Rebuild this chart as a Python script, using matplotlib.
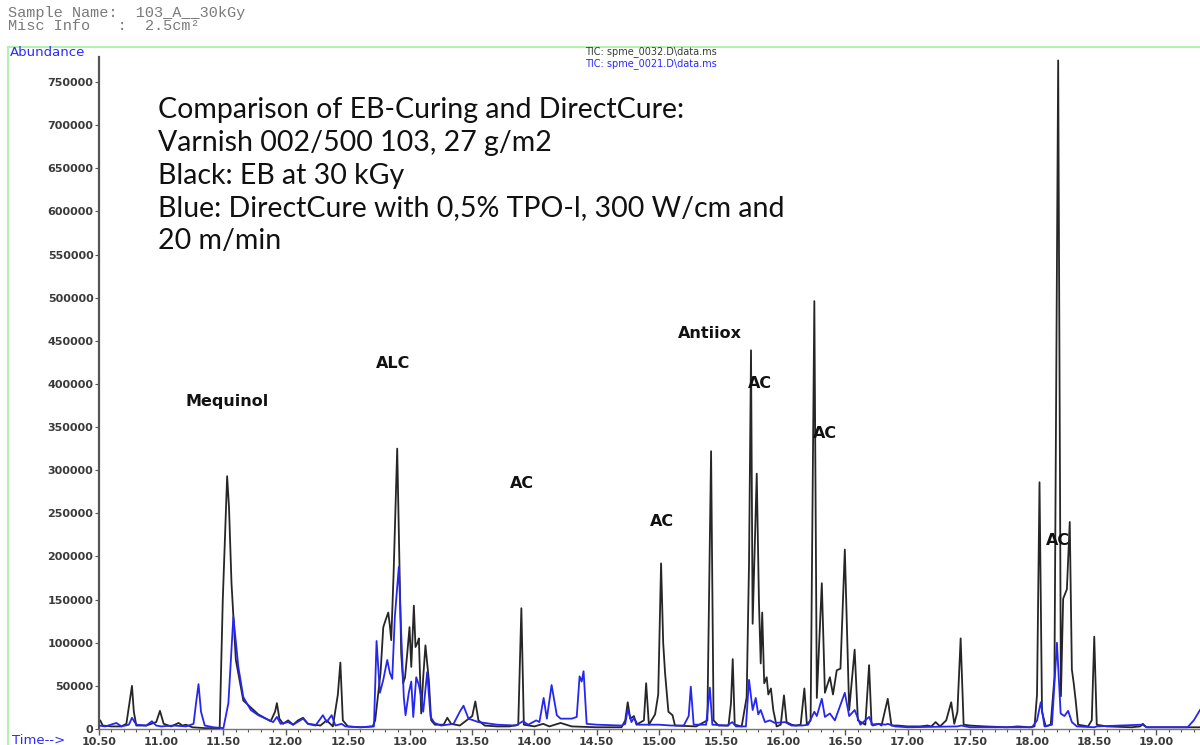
import numpy as np
import matplotlib
matplotlib.use('Agg')
from matplotlib import pyplot as plt
from matplotlib.lines import Line2D
from matplotlib.ticker import MultipleLocator, FuncFormatter

# TIC traces, retention time (min) vs abundance (x1000 counts)
eb_time = [10.50, 10.51, 10.53, 10.60, 10.68, 10.72, 10.745, 10.765, 10.78, 10.80,
           10.88, 10.96, 10.99, 11.02, 11.08, 11.14, 11.17, 11.20, 11.25, 11.35,
           11.47, 11.495, 11.53, 11.545, 11.565, 11.60, 11.66, 11.78, 11.88, 11.915,
           11.93, 11.95, 11.98, 12.02, 12.06, 12.10, 12.14, 12.18, 12.23, 12.28,
           12.33, 12.38, 12.42, 12.44, 12.46, 12.50, 12.60, 12.70, 12.72, 12.763,
           12.785, 12.803, 12.825, 12.838, 12.849, 12.868, 12.897, 12.916, 12.929, 12.945,
           12.96, 12.978, 12.996, 13.01, 13.031, 13.044, 13.06, 13.071, 13.09, 13.106,
           13.124, 13.151, 13.17, 13.20, 13.27, 13.30, 13.33, 13.40, 13.50, 13.525,
           13.55, 13.60, 13.70, 13.80, 13.87, 13.895, 13.915, 14.00, 14.07, 14.12,
           14.21, 14.30, 14.50, 14.70, 14.73, 14.75, 14.77, 14.80, 14.82, 14.88,
           14.898, 14.92, 14.97, 14.995, 15.018, 15.035, 15.05, 15.077, 15.11, 15.13,
           15.30, 15.39, 15.42, 15.44, 15.48, 15.56, 15.58, 15.594, 15.61, 15.666,
           15.706, 15.725, 15.741, 15.754, 15.787, 15.805, 15.819, 15.831, 15.847, 15.867,
           15.88, 15.901, 15.92, 15.947, 15.98, 16.006, 16.027, 16.067, 16.10, 16.14,
           16.17, 16.19, 16.22, 16.25, 16.27, 16.31, 16.335, 16.35, 16.375, 16.40,
           16.43, 16.46, 16.495, 16.53, 16.574, 16.60, 16.66, 16.69, 16.71, 16.77,
           16.79, 16.84, 16.87, 16.92, 17.00, 17.10, 17.16, 17.19, 17.225, 17.26,
           17.31, 17.35, 17.375, 17.40, 17.426, 17.45, 17.50, 17.62, 17.80, 17.886,
           17.98, 18.02, 18.04, 18.06, 18.08, 18.11, 18.15, 18.18, 18.21, 18.232,
           18.25, 18.28, 18.303, 18.32, 18.335, 18.35, 18.37, 18.45, 18.48, 18.50,
           18.52, 18.60, 18.80, 18.87, 18.89, 18.92, 19.10, 19.35]
eb_abund = [8, 10, 4, 3, 3, 6, 30, 50, 20, 4,
            4, 8, 21, 6, 3, 7, 4, 5, 2, 1,
            1, 150, 293, 257, 169, 80, 33, 17, 9, 20,
            30, 12, 6, 10, 5, 10, 13, 6, 5, 4,
            10, 3, 40, 77, 10, 3, 2, 3, 10, 65,
            118, 126, 135, 120, 103, 180, 325, 184, 88, 53,
            60, 88, 118, 72, 143, 95, 100, 105, 18, 60,
            97, 57, 10, 5, 5, 13, 6, 4, 15, 32,
            10, 4, 3, 3, 5, 140, 5, 3, 6, 3,
            7, 3, 2, 2, 10, 31, 12, 15, 5, 10,
            53, 5, 17, 40, 192, 100, 65, 20, 16, 4,
            3, 10, 322, 10, 4, 4, 30, 81, 5, 3,
            37, 192, 439, 122, 296, 146, 76, 135, 53, 60,
            40, 47, 22, 3, 5, 39, 8, 5, 4, 5,
            47, 5, 10, 496, 36, 169, 42, 49, 60, 40,
            68, 70, 208, 22, 92, 10, 5, 74, 5, 6,
            4, 35, 4, 4, 3, 3, 4, 3, 8, 3,
            10, 31, 6, 20, 105, 5, 4, 3, 2, 3,
            2, 3, 40, 286, 20, 3, 5, 60, 775, 38,
            151, 162, 240, 69, 53, 34, 5, 3, 10, 107,
            5, 3, 2, 3, 6, 2, 2, 2]

dc_time = [10.50, 10.55, 10.64, 10.68, 10.74, 10.765, 10.80, 10.88, 10.925, 10.96,
           11.00, 11.10, 11.20, 11.26, 11.28, 11.30, 11.32, 11.35, 11.42, 11.50,
           11.54, 11.58, 11.62, 11.66, 11.72, 11.78, 11.90, 11.93, 11.96, 12.02,
           12.06, 12.14, 12.18, 12.24, 12.30, 12.33, 12.37, 12.40, 12.45, 12.48,
           12.60, 12.71, 12.731, 12.758, 12.785, 12.817, 12.838, 12.857, 12.878, 12.910,
           12.929, 12.950, 12.964, 12.990, 13.010, 13.026, 13.050, 13.071, 13.090, 13.106,
           13.138, 13.165, 13.197, 13.25, 13.35, 13.40, 13.43, 13.47, 13.55, 13.70,
           13.85, 13.908, 13.95, 14.015, 14.04, 14.074, 14.10, 14.138, 14.18, 14.21,
           14.30, 14.34, 14.363, 14.38, 14.395, 14.42, 14.50, 14.70, 14.73, 14.75,
           14.78, 14.80, 14.83, 14.90, 15.00, 15.10, 15.20, 15.24, 15.257, 15.28,
           15.38, 15.41, 15.43, 15.55, 15.59, 15.62, 15.70, 15.725, 15.754, 15.779,
           15.799, 15.819, 15.853, 15.893, 15.933, 16.014, 16.067, 16.15, 16.20, 16.25,
           16.27, 16.31, 16.335, 16.375, 16.415, 16.495, 16.53, 16.574, 16.62, 16.69,
           16.72, 16.77, 16.82, 16.84, 16.90, 17.00, 17.40, 17.43, 17.50, 18.00,
           18.04, 18.07, 18.10, 18.16, 18.20, 18.23, 18.26, 18.29, 18.32, 18.36,
           18.50, 18.52, 18.89, 18.92, 19.25, 19.30, 19.35]
dc_abund = [4, 3, 7, 3, 5, 13, 5, 4, 9, 4,
            3, 4, 3, 6, 30, 52, 20, 4, 2, 1,
            30, 130, 72, 37, 22, 16, 8, 14, 6, 8,
            5, 12, 6, 4, 16, 8, 16, 4, 6, 3,
            2, 3, 102, 42, 57, 80, 65, 58, 130, 188,
            111, 37, 16, 42, 55, 14, 60, 51, 37, 20,
            66, 14, 7, 4, 6, 20, 27, 12, 8, 5,
            4, 9, 5, 10, 8, 36, 12, 51, 16, 12,
            12, 14, 61, 55, 67, 6, 5, 4, 6, 23,
            8, 13, 5, 5, 5, 4, 4, 15, 49, 5,
            5, 48, 5, 4, 8, 3, 3, 57, 22, 36,
            17, 22, 8, 10, 7, 8, 4, 4, 5, 20,
            15, 35, 14, 18, 10, 42, 15, 22, 5, 14,
            4, 6, 5, 6, 3, 2, 3, 4, 2, 2,
            10, 31, 3, 5, 100, 18, 15, 21, 8, 3,
            2, 3, 5, 2, 2, 10, 22]

# peak labels: text, retention time, abundance (x1000)
peak_names = ['Mequinol', 'ALC', 'AC', 'AC', 'Antiiox', 'AC', 'AC', 'AC']
peak_time = [11.53, 12.864, 13.903, 15.027, 15.408, 15.813, 16.339, 18.205]
peak_abund = [380, 424, 285, 241, 458, 400, 343, 219]

x_ticks = [10.5, 11.0, 11.5, 12.0, 12.5, 13.0, 13.5, 14.0, 14.5,
           15.0, 15.5, 16.0, 16.5, 17.0, 17.5, 18.0, 18.5, 19.0]
y_ticks = list(range(0, 750001, 50000))

info_text = ('Comparison of EB-Curing and DirectCure:\n'
             'Varnish 002/500 103, 27 g/m2\n'
             'Black: EB at 30 kGy\n'
             'Blue: DirectCure with 0,5% TPO-l, 300 W/cm and\n'
             '20 m/min')
header_text = ('Sample Name:  103_A__30kGy\n'
               'Misc Info   :  2.5cm\u00b2')

W, H = 1200, 745
fig = plt.figure(figsize=(W / 100, H / 100), dpi=100)
ax = fig.add_axes([99 / W, 16 / H, 1101 / W, 672 / H])

black = '#262626'
blue = '#2626f2'
ax.plot(eb_time, np.array(eb_abund) * 1000, color=black, lw=1.3, zorder=2)
ax.plot(dc_time, np.array(dc_abund) * 1000, color=blue, lw=1.3, zorder=3)

ax.set_xlim(10.50, 19.35)
ax.set_ylim(0, 779000)
ax.set_xticks(x_ticks)
ax.xaxis.set_minor_locator(MultipleLocator(0.1))
ax.set_yticks(y_ticks)
ax.xaxis.set_major_formatter(FuncFormatter(lambda v, p: f'{v:.2f}'))
ax.yaxis.set_major_formatter(FuncFormatter(lambda v, p: f'{int(v)}'))

ax.tick_params(axis='x', which='major', direction='out', length=4, width=1, pad=2, colors='#555555')
ax.tick_params(axis='x', which='minor', direction='out', length=2.5, width=0.8, colors='#555555')
ax.tick_params(axis='y', direction='out', length=3, width=0.8, pad=1, colors='#555555')
for lab in ax.get_xticklabels() + ax.get_yticklabels():
    lab.set_fontfamily('DejaVu Sans')
    lab.set_fontweight('bold')
    lab.set_fontsize(8)
    lab.set_color('#3a3a3a')

for side in ['top', 'right']:
    ax.spines[side].set_visible(False)
ax.spines['left'].set_color('#555555')
ax.spines['left'].set_linewidth(1.6)
ax.spines['bottom'].set_color('#777777')
ax.spines['bottom'].set_linewidth(1.0)

# compound labels above the peaks
for name, t, a in zip(peak_names, peak_time, peak_abund):
    ax.text(t, a * 1000, name, ha='center', va='center', fontsize=11.5,
            fontweight='bold', family='DejaVu Sans', color='#111111', zorder=4)

ax.text(10.978, 733000, info_text, ha='left', va='top',
        fontsize=20.5, family='Lato', color='#111111', linespacing=1.33, zorder=5)

# header of the instrument printout
fig.text(8 / W, 1 - 6 / H, header_text, family='Liberation Mono', fontsize=11,
         color='#7a7a7a', va='top', ha='left', linespacing=0.9)

fig.text(10 / W, 1 - 53 / H, 'Abundance', family='DejaVu Sans', fontsize=9.5,
         color='#2a2aff', va='center', ha='left')
fig.text(12 / W, 1 - 740 / H, 'Time-->', family='DejaVu Sans', fontsize=9.5,
         color='#2a2aff', va='center', ha='left')
fig.text(651 / W, 1 - 52 / H, 'TIC: spme_0032.D\\data.ms', family='DejaVu Sans',
         fontsize=7, color='#3a3a3a', va='center', ha='center')
fig.text(651 / W, 1 - 64 / H, 'TIC: spme_0021.D\\data.ms', family='DejaVu Sans',
         fontsize=7, color='#2a2aff', va='center', ha='center')

# light green frame round the plot area
frame = '#b4f0b4'
fig.add_artist(Line2D([8 / W, 1.0], [1 - 47 / H, 1 - 47 / H], transform=fig.transFigure,
                      color=frame, lw=1.5))
fig.add_artist(Line2D([8 / W, 8 / W], [0.0, 1 - 47 / H], transform=fig.transFigure,
                      color=frame, lw=1.5))

fig.savefig('out.png', dpi=100)
